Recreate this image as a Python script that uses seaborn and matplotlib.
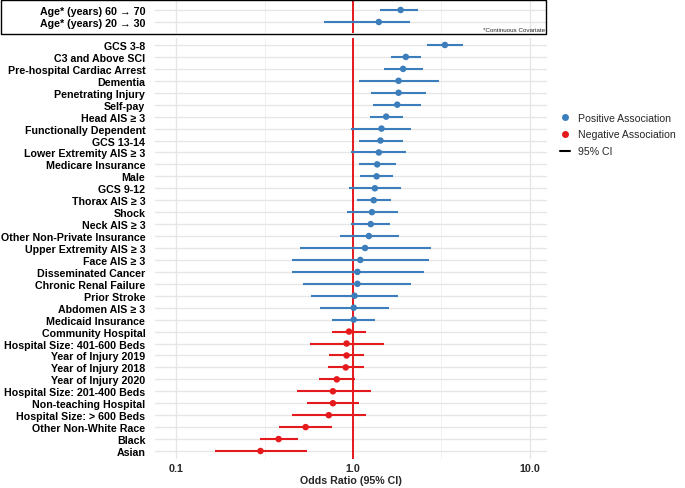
import numpy as np
import pandas as pd
import matplotlib
matplotlib.use("Agg")
import matplotlib.pyplot as plt
import seaborn as sns
from matplotlib.lines import Line2D
from matplotlib.patches import Rectangle

# continuous covariates (top box)
age_labels = ["Age* (years) 60 \u2192 70", "Age* (years) 20 \u2192 30"]
age_or = [1.86, 1.40]
age_lo = [1.43, 0.69]
age_hi = [2.32, 2.09]

# categorical covariates
labels = [
    "GCS 3-8", "C3 and Above SCI", "Pre-hospital Cardiac Arrest", "Dementia",
    "Penetrating Injury", "Self-pay", "Head AIS \u2265 3", "Functionally Dependent",
    "GCS 13-14", "Lower Extremity AIS \u2265 3", "Medicare Insurance", "Male",
    "GCS 9-12", "Thorax AIS \u2265 3", "Shock", "Neck AIS \u2265 3",
    "Other Non-Private Insurance", "Upper Extremity AIS \u2265 3", "Face AIS \u2265 3",
    "Disseminated Cancer", "Chronic Renal Failure", "Prior Stroke",
    "Abdomen AIS \u2265 3", "Medicaid Insurance", "Community Hospital",
    "Hospital Size: 401-600 Beds", "Year of Injury 2019", "Year of Injury 2018",
    "Year of Injury 2020", "Hospital Size: 201-400 Beds", "Non-teaching Hospital",
    "Hospital Size: > 600 Beds", "Other Non-White Race", "Black", "Asian",
]
odds = [3.31, 1.99, 1.92, 1.81, 1.81, 1.78, 1.54, 1.45, 1.43, 1.40, 1.37, 1.36,
        1.33, 1.31, 1.28, 1.26, 1.23, 1.17, 1.10, 1.06, 1.06, 1.02, 1.01, 1.01,
        0.95, 0.92, 0.92, 0.91, 0.81, 0.77, 0.77, 0.73, 0.54, 0.38, 0.30]
ci_lo = [2.63, 1.64, 1.49, 1.08, 1.26, 1.30, 1.25, 0.97, 1.08, 0.98, 1.08, 1.10,
         0.95, 1.05, 0.92, 0.98, 0.84, 0.50, 0.45, 0.45, 0.52, 0.58, 0.65, 0.76,
         0.76, 0.57, 0.73, 0.72, 0.64, 0.48, 0.55, 0.45, 0.38, 0.30, 0.166]
ci_hi = [4.20, 2.41, 2.48, 3.05, 2.58, 2.43, 1.91, 2.14, 1.91, 2.00, 1.76, 1.69,
         1.86, 1.64, 1.79, 1.61, 1.81, 2.76, 2.70, 2.52, 2.14, 1.80, 1.59, 1.34,
         1.19, 1.50, 1.16, 1.15, 1.03, 1.26, 1.08, 1.19, 0.76, 0.49, 0.55]

BLUE = "#3C7EBB"
RED = "#E41A1C"
palette = {"Positive Association": BLUE, "Negative Association": RED}

sns.set_theme(style="whitegrid")
plt.rcParams["font.family"] = ["Liberation Sans", "DejaVu Sans"]


def make_df(lab, o, lo, hi):
    df = pd.DataFrame({"label": lab, "or": o, "lo": lo, "hi": hi})
    df["pos"] = np.arange(len(df))
    df["assoc"] = np.where(df["or"] >= 1, "Positive Association", "Negative Association")
    df["color"] = df["assoc"].map(palette)
    return df


def draw(ax, df):
    ax.hlines(df["pos"], df["lo"], df["hi"], colors=df["color"], lw=1.5, zorder=3)
    sns.scatterplot(data=df, x="or", y="pos", hue="assoc", palette=palette,
                    s=22, linewidth=0, legend=False, ax=ax, zorder=4)
    ax.axvline(1, color=RED, lw=1.4, zorder=2)
    ax.set_xscale("log")
    ax.set_xlim(0.076, 12.5)
    ax.set_xticks([0.1, 1, 10])
    ax.set_xticks([10 ** -0.5, 10 ** 0.5], minor=True)
    ax.grid(True, which="major", color="#E6E6E6", lw=1.0)
    ax.grid(True, which="minor", axis="x", color="#EEEEEE", lw=0.6)
    ax.set_yticks(df["pos"])
    ax.set_yticklabels(df["label"], fontsize=7.7, fontweight="bold", color="black")
    ax.tick_params(axis="y", length=0, pad=7)
    ax.set_ylabel("")
    for s in ax.spines.values():
        s.set_visible(False)


fig = plt.figure(figsize=(6.85, 4.89), dpi=100)
W, H = 685, 489

# main panel
ax = fig.add_axes([155 / W, 1 - 460 / H, 392 / W, 421 / H])
main = make_df(labels, odds, ci_lo, ci_hi)
draw(ax, main)
ax.set_ylim(len(main) - 1 + 0.67, -0.585)
ax.set_xticklabels(["0.1", "1.0", "10.0"], fontsize=7.7, fontweight="bold")
ax.tick_params(axis="x", length=0, pad=3)
ax.set_xlabel("Odds Ratio (95% CI)", fontsize=7.7, fontweight="bold", labelpad=1)

# top box with age rows
ax2 = fig.add_axes([155 / W, 1 - 34 / H, 392 / W, 32 / H])
age = make_df(age_labels, age_or, age_lo, age_hi)
draw(ax2, age)
ax2.set_ylim(1.92, -0.75)
ax2.set_xticklabels([])
ax2.tick_params(axis="x", length=0)
ax2.set_xlabel("")
ax2.text(0.995, 0.03, "*Continuous Covariate", transform=ax2.transAxes,
         ha="right", va="bottom", fontsize=4.5)
fig.patches.append(Rectangle((1 / W, 1 - 35 / H), 545 / W, 34 / H,
                             transform=fig.transFigure, fill=False,
                             edgecolor="black", lw=1.0))

# legend
handles = [
    Line2D([], [], marker="o", ls="", color=BLUE, markersize=4),
    Line2D([], [], marker="o", ls="", color=RED, markersize=4),
    Line2D([], [], color="black", lw=1.5),
]
fig.legend(handles, ["Positive Association", "Negative Association", "95% CI"],
           loc="upper left", bbox_to_anchor=(550 / W, 1 - 104 / H), frameon=False,
           fontsize=7.6, handlelength=1.0, handletextpad=0.8, labelspacing=0.65)

fig.savefig("out.png", dpi=100)
